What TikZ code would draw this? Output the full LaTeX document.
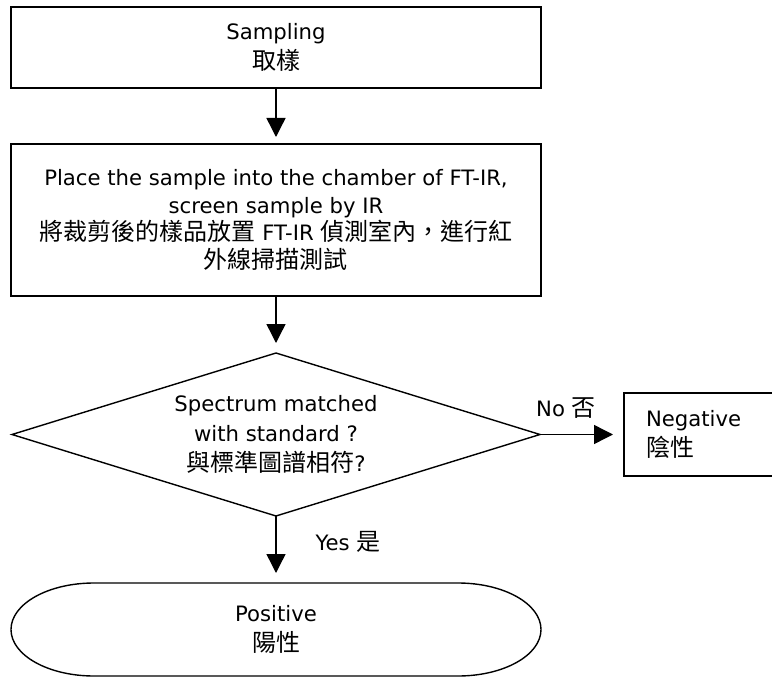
\documentclass[tikz,border=0pt]{standalone}
\usepackage{fontspec}
\setmainfont{DejaVu Sans}
\newfontfamily\cjk{Noto Sans CJK TC}
\usetikzlibrary{arrows.meta,shapes.geometric}
\newcommand\zh[1]{{\cjk\fontsize{24}{30}\selectfont #1}}
\begin{document}
\begin{tikzpicture}[x=1pt,y=-1pt,
  font=\fontsize{21.2}{30}\selectfont,
  every node/.style={inner sep=0pt, outer sep=0pt},
  line/.style={line width=1.4pt},
  box/.style={draw, line, minimum width=530pt, align=center},
  conn/.style={line width=1.4pt, -{Triangle[length=19pt,width=19pt]}}]
\useasboundingbox (0,0) rectangle (772,677);

\node[box, minimum height=81pt] (s1) at (276,47.5) {Sampling\\\zh{取樣}};

\node[box, minimum height=152pt, font=\fontsize{21.2}{27.5}\selectfont] (s2) at (276,220)
  {Place the sample into the chamber of FT-IR,\\screen sample by IR\\
   \zh{將裁剪後的樣品放置} FT-IR \zh{偵測室內，進行紅}\\\zh{外線掃描測試}};

\node[diamond, draw, line, shape aspect=3.24, minimum width=528pt, minimum height=163pt, align=center] (d) at (276,434.5)
  {Spectrum matched\\with standard ?\\\zh{與標準圖譜相符}?};

\node[draw, line, anchor=west, text width=120pt, inner xsep=22pt, inner ysep=0pt, minimum height=83pt, align=left] (neg) at (624,434.5)
  {Negative\\\zh{陰性}};

\node[minimum width=530pt, minimum height=93pt, align=center] (pos) at (276,629.5) {Positive\\\zh{陽性}};
\draw[line] (94,583) -- (458,583) arc[start angle=-90, end angle=90, x radius=83, y radius=46.5]
  -- (94,676) arc[start angle=90, end angle=270, x radius=83, y radius=46.5] -- cycle;

\draw[conn, shorten >=7pt] (s1) -- (s2);
\draw[conn, shorten >=10pt] (s2) -- (d);
\draw[conn, shorten >=10pt] (d) -- (pos);
\draw[conn, shorten >=11pt] (d.east) -- (neg.west);

\node (no) at (566,408) {No \zh{否}};
\node (yes) at (348,542) {Yes \zh{是}};
\end{tikzpicture}
\end{document}
